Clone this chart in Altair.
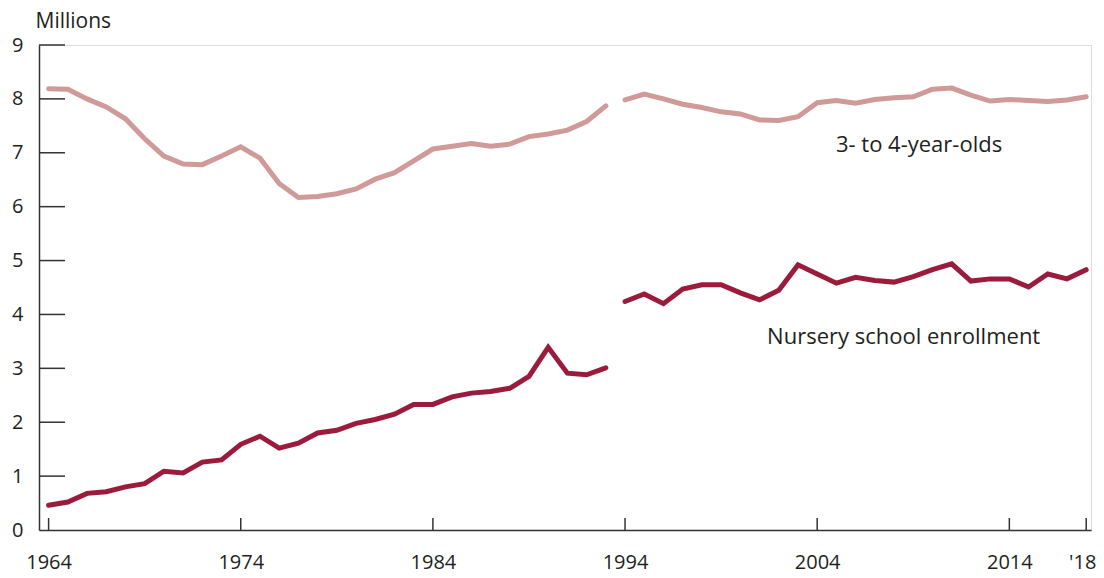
import altair as alt
import pandas as pd

years_a = list(range(1964, 1994))
years_b = list(range(1994, 2019))

kids_a = [8.19, 8.18, 8.00, 7.85, 7.63, 7.26, 6.94, 6.79, 6.78, 6.94,
          7.11, 6.90, 6.43, 6.17, 6.19, 6.24, 6.33, 6.51, 6.63, 6.85,
          7.07, 7.12, 7.17, 7.12, 7.16, 7.30, 7.35, 7.42, 7.58, 7.87]
kids_b = [7.98, 8.09, 8.00, 7.90, 7.84, 7.76, 7.72, 7.61, 7.60, 7.67,
          7.93, 7.97, 7.92, 7.99, 8.02, 8.04, 8.18, 8.20, 8.07, 7.96,
          7.99, 7.97, 7.95, 7.98, 8.04]

nursery_a = [0.46, 0.52, 0.68, 0.71, 0.80, 0.86, 1.09, 1.06, 1.26, 1.30,
             1.59, 1.74, 1.52, 1.61, 1.80, 1.85, 1.98, 2.05, 2.15, 2.33,
             2.33, 2.47, 2.54, 2.57, 2.63, 2.85, 3.39, 2.91, 2.88, 3.01]
nursery_b = [4.24, 4.38, 4.20, 4.47, 4.55, 4.55, 4.40, 4.27, 4.45, 4.92,
             4.75, 4.58, 4.69, 4.63, 4.60, 4.70, 4.83, 4.94, 4.62, 4.66,
             4.66, 4.51, 4.75, 4.66, 4.83]

series_names = ["3- to 4-year-olds", "Nursery school enrollment"]
series_colors = ["#d09a98", "#9b1b3d"]

label_text = ["3- to 4-year-olds", "Nursery school enrollment"]
label_year = [2009.3, 2008.5]
label_value = [7.15, 3.59]

x_tick_values = [1964, 1974, 1984, 1994, 2004, 2014, 2018]
y_tick_values = [0, 1, 2, 3, 4, 5, 6, 7, 8, 9]

rows = []
for seg, (yrs, vals) in enumerate([(years_a, kids_a), (years_b, kids_b)]):
    for y, v in zip(yrs, vals):
        rows.append({"year": y, "value": v, "series": series_names[0], "seg": f"k{seg}"})
for seg, (yrs, vals) in enumerate([(years_a, nursery_a), (years_b, nursery_b)]):
    for y, v in zip(yrs, vals):
        rows.append({"year": y, "value": v, "series": series_names[1], "seg": f"n{seg}"})
df = pd.DataFrame(rows)

W, H = 1052, 485
FONT = "Open Sans"
FS = 20
TXT = "#231f20"

xscale = alt.Scale(domain=[1963.5, 2018.25], nice=False, zero=False)
yscale = alt.Scale(domain=[0, 9], nice=False)

lines = alt.Chart(df).mark_line(strokeWidth=5, strokeCap="round", strokeJoin="miter").encode(
    x=alt.X("year:Q", scale=xscale,
            axis=alt.Axis(values=x_tick_values, ticks=False, grid=False, title=None,
                          labelExpr="datum.value == 2018 ? \"'18\" : datum.value",
                          labelOffset={"condition": {"test": "datum.value == 2018", "value": -4}, "value": 0},
                          labelFontSize=FS, labelFont=FONT, labelColor=TXT,
                          labelPadding=22, domainColor="#333333", domainWidth=1.5,
                          labelFlush=False)),
    y=alt.Y("value:Q", scale=yscale,
            axis=alt.Axis(values=y_tick_values, format="d", ticks=False, grid=False, title="Millions",
                          titleAngle=0, titleX=-4, titleY=-18, titleAlign="left",
                          titleBaseline="alphabetic", titleFont=FONT, titleFontSize=21,
                          titleFontWeight="normal", titleColor=TXT,
                          labelFontSize=FS, labelFont=FONT, labelColor=TXT,
                          labelPadding=16, domainColor="#333333", domainWidth=1.5,
                          labelFlush=False)),
    color=alt.Color("series:N", scale=alt.Scale(domain=series_names, range=series_colors), legend=None),
    detail="seg:N",
)

ytick_df = pd.DataFrame({"v": y_tick_values[1:]})
yticks = alt.Chart(ytick_df).mark_rule(color="#333333", strokeWidth=1.5).encode(
    y=alt.Y("v:Q", scale=yscale),
    x=alt.value(0),
    x2=alt.value(26),
)

xtick_df = pd.DataFrame({"t": x_tick_values})
xticks = alt.Chart(xtick_df).mark_rule(color="#333333", strokeWidth=1.5).encode(
    x=alt.X("t:Q", scale=xscale),
    y=alt.value(H),
    y2=alt.value(H - 12),
)

lab_df = pd.DataFrame({"text": label_text, "year": label_year, "value": label_value})
labels = alt.Chart(lab_df).mark_text(font=FONT, fontSize=22, color=TXT, align="center", baseline="middle").encode(
    x=alt.X("year:Q", scale=xscale),
    y=alt.Y("value:Q", scale=yscale),
    text="text:N",
)

chart = alt.layer(yticks, xticks, lines, labels).properties(
    width=W, height=H,
    autosize=alt.AutoSizeParams(type="none"),
    padding={"left": 31, "top": 37, "right": 5, "bottom": 48},
).configure_view(stroke=None).configure(background="white")

chart.save("out.html", embed_options={"renderer": "svg", "actions": False})
